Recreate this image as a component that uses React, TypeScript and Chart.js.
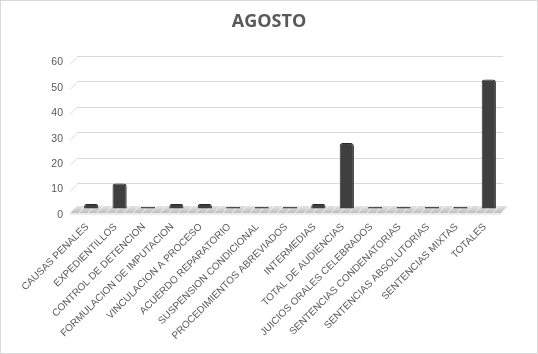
import React, { useEffect, useRef } from "react";
import { Chart, registerables } from "chart.js";

Chart.register(...registerables);

const categories = [
  "CAUSAS PENALES",
  "EXPEDIENTILLOS",
  "CONTROL DE DETENCION",
  "FORMULACION DE IMPUTACION",
  "VINCULACION A PROCESO",
  "ACUERDO REPARATORIO",
  "SUSPENSION CONDICIONAL",
  "PROCEDIMIENTOS ABREVIADOS",
  "INTERMEDIAS",
  "TOTAL DE AUDIENCIAS",
  "JUICIOS ORALES CELEBRADOS",
  "SENTENCIAS CONDENATORIAS",
  "SENTENCIAS ABSOLUTORIAS",
  "SENTENCIAS MIXTAS",
  "TOTALES",
];
const values = [2, 10, 0, 2, 2, 0, 0, 0, 2, 26, 0, 0, 0, 0, 51];
const yTicks = [0, 10, 20, 30, 40, 50, 60];
const title = "AGOSTO";

const floorPlugin = {
  id: "floor3d",
  beforeDatasetsDraw(chart: any) {
    const { ctx, chartArea } = chart;
    const y = chart.scales.y;
    const x0 = chartArea.left;
    const x1 = chartArea.right;
    const b = y.getPixelForValue(0);
    ctx.save();
    ctx.strokeStyle = "#d9d9d9";
    ctx.lineWidth = 1;
    yTicks.forEach((t) => {
      if (t === 0) return;
      const py = Math.round(y.getPixelForValue(t)) + 0.5;
      ctx.beginPath();
      ctx.moveTo(x0 - 7, py + 7);
      ctx.lineTo(x0, py);
      ctx.stroke();
    });
    const grad = ctx.createLinearGradient(0, b - 3, 0, b + 5);
    grad.addColorStop(0, "#e4e4e4");
    grad.addColorStop(1, "#b8b8b8");
    ctx.fillStyle = grad;
    ctx.beginPath();
    ctx.moveTo(x0, b - 3);
    ctx.lineTo(x1 + 5, b - 3);
    ctx.lineTo(x1 - 2, b + 4);
    ctx.lineTo(x0 - 7, b + 4);
    ctx.closePath();
    ctx.fill();
    ctx.beginPath();
    ctx.rect(x0 - 7, b - 3, x1 - x0 + 12, 7);
    ctx.clip();
    ctx.strokeStyle = "rgba(255,255,255,0.7)";
    for (let sx = x0 - 7; sx < x1 + 10; sx += 9) {
      ctx.beginPath();
      ctx.moveTo(sx, b + 4);
      ctx.lineTo(sx + 6, b - 3);
      ctx.stroke();
    }
    ctx.restore();
    ctx.save();
    ctx.fillStyle = "rgba(0,0,0,0.08)";
    ctx.fillRect(x0 - 7, b + 4, x1 - x0 + 5, 2);
    ctx.restore();
  },
};

export default function App() {
  const ref = useRef<HTMLCanvasElement>(null);
  useEffect(() => {
    document.body.style.margin = "0";
    const canvas = ref.current!;
    const chart = new Chart(canvas, {
      type: "bar",
      data: {
        labels: categories,
        datasets: [
          {
            data: values,
            backgroundColor: (c: any) => {
              const el = c.element;
              const cx = c.chart.ctx;
              if (!el || el.x === undefined) return "#3f3f3f";
              const w = el.width || 13;
              const g = cx.createLinearGradient(el.x - w / 2, 0, el.x + w / 2, 0);
              g.addColorStop(0, "#585858");
              g.addColorStop(0.5, "#404040");
              g.addColorStop(1, "#262626");
              return g;
            },
            borderColor: "#2a2a2a",
            borderWidth: 1,
            borderRadius: { topLeft: 3, topRight: 3, bottomLeft: 0, bottomRight: 0 },
            borderSkipped: "bottom",
            minBarLength: 2,
            barPercentage: 0.5,
            categoryPercentage: 1,
          },
        ],
      },
      options: {
        responsive: false,
        animation: false,
        layout: { padding: { left: 0, right: 0, top: 0, bottom: 0 } },
        plugins: {
          legend: { display: false },
          tooltip: { enabled: false },
          title: {
            display: true,
            text: title,
            color: "#595959",
            font: { family: "'Open Sans', 'Liberation Sans', sans-serif", size: 18, weight: "bold" },
            padding: { top: 10, bottom: 24 },
          },
        },
        scales: {
          x: {
            grid: { display: false, drawTicks: false },
            border: { display: false },
            ticks: {
              color: "#595959",
              font: { family: "'Liberation Sans', sans-serif", size: 10 },
              maxRotation: 45,
              minRotation: 45,
              autoSkip: false,
              padding: 12,
              labelOffset: -4,
            },
            afterFit: (s: any) => {
              s.height = 144;
            },
          },
          y: {
            min: 0,
            max: 60,
            afterBuildTicks: (s: any) => {
              s.ticks = yTicks.map((v) => ({ value: v }));
            },
            grid: { color: "#d9d9d9", drawTicks: false },
            border: { display: false },
            ticks: {
              color: "#595959",
              font: { family: "'Liberation Sans', sans-serif", size: 10.5 },
              padding: 14,
              labelOffset: 6,
            },
            afterFit: (s: any) => {
              s.width = 76;
            },
          },
          yR: {
            type: "linear",
            position: "right",
            display: true,
            grid: { display: false, drawTicks: false },
            border: { display: false },
            ticks: { display: false },
            afterFit: (s: any) => {
              s.width = 34;
            },
          },
        },
      },
      plugins: [floorPlugin],
    });
    return () => chart.destroy();
  }, []);
  return (
    <div
      style={{
        width: 538,
        height: 354,
        border: "1px solid #d9d9d9",
        boxSizing: "border-box",
        background: "#fff",
      }}
    >
      <canvas ref={ref} width={536} height={352} style={{ display: "block" }} />
    </div>
  );
}
